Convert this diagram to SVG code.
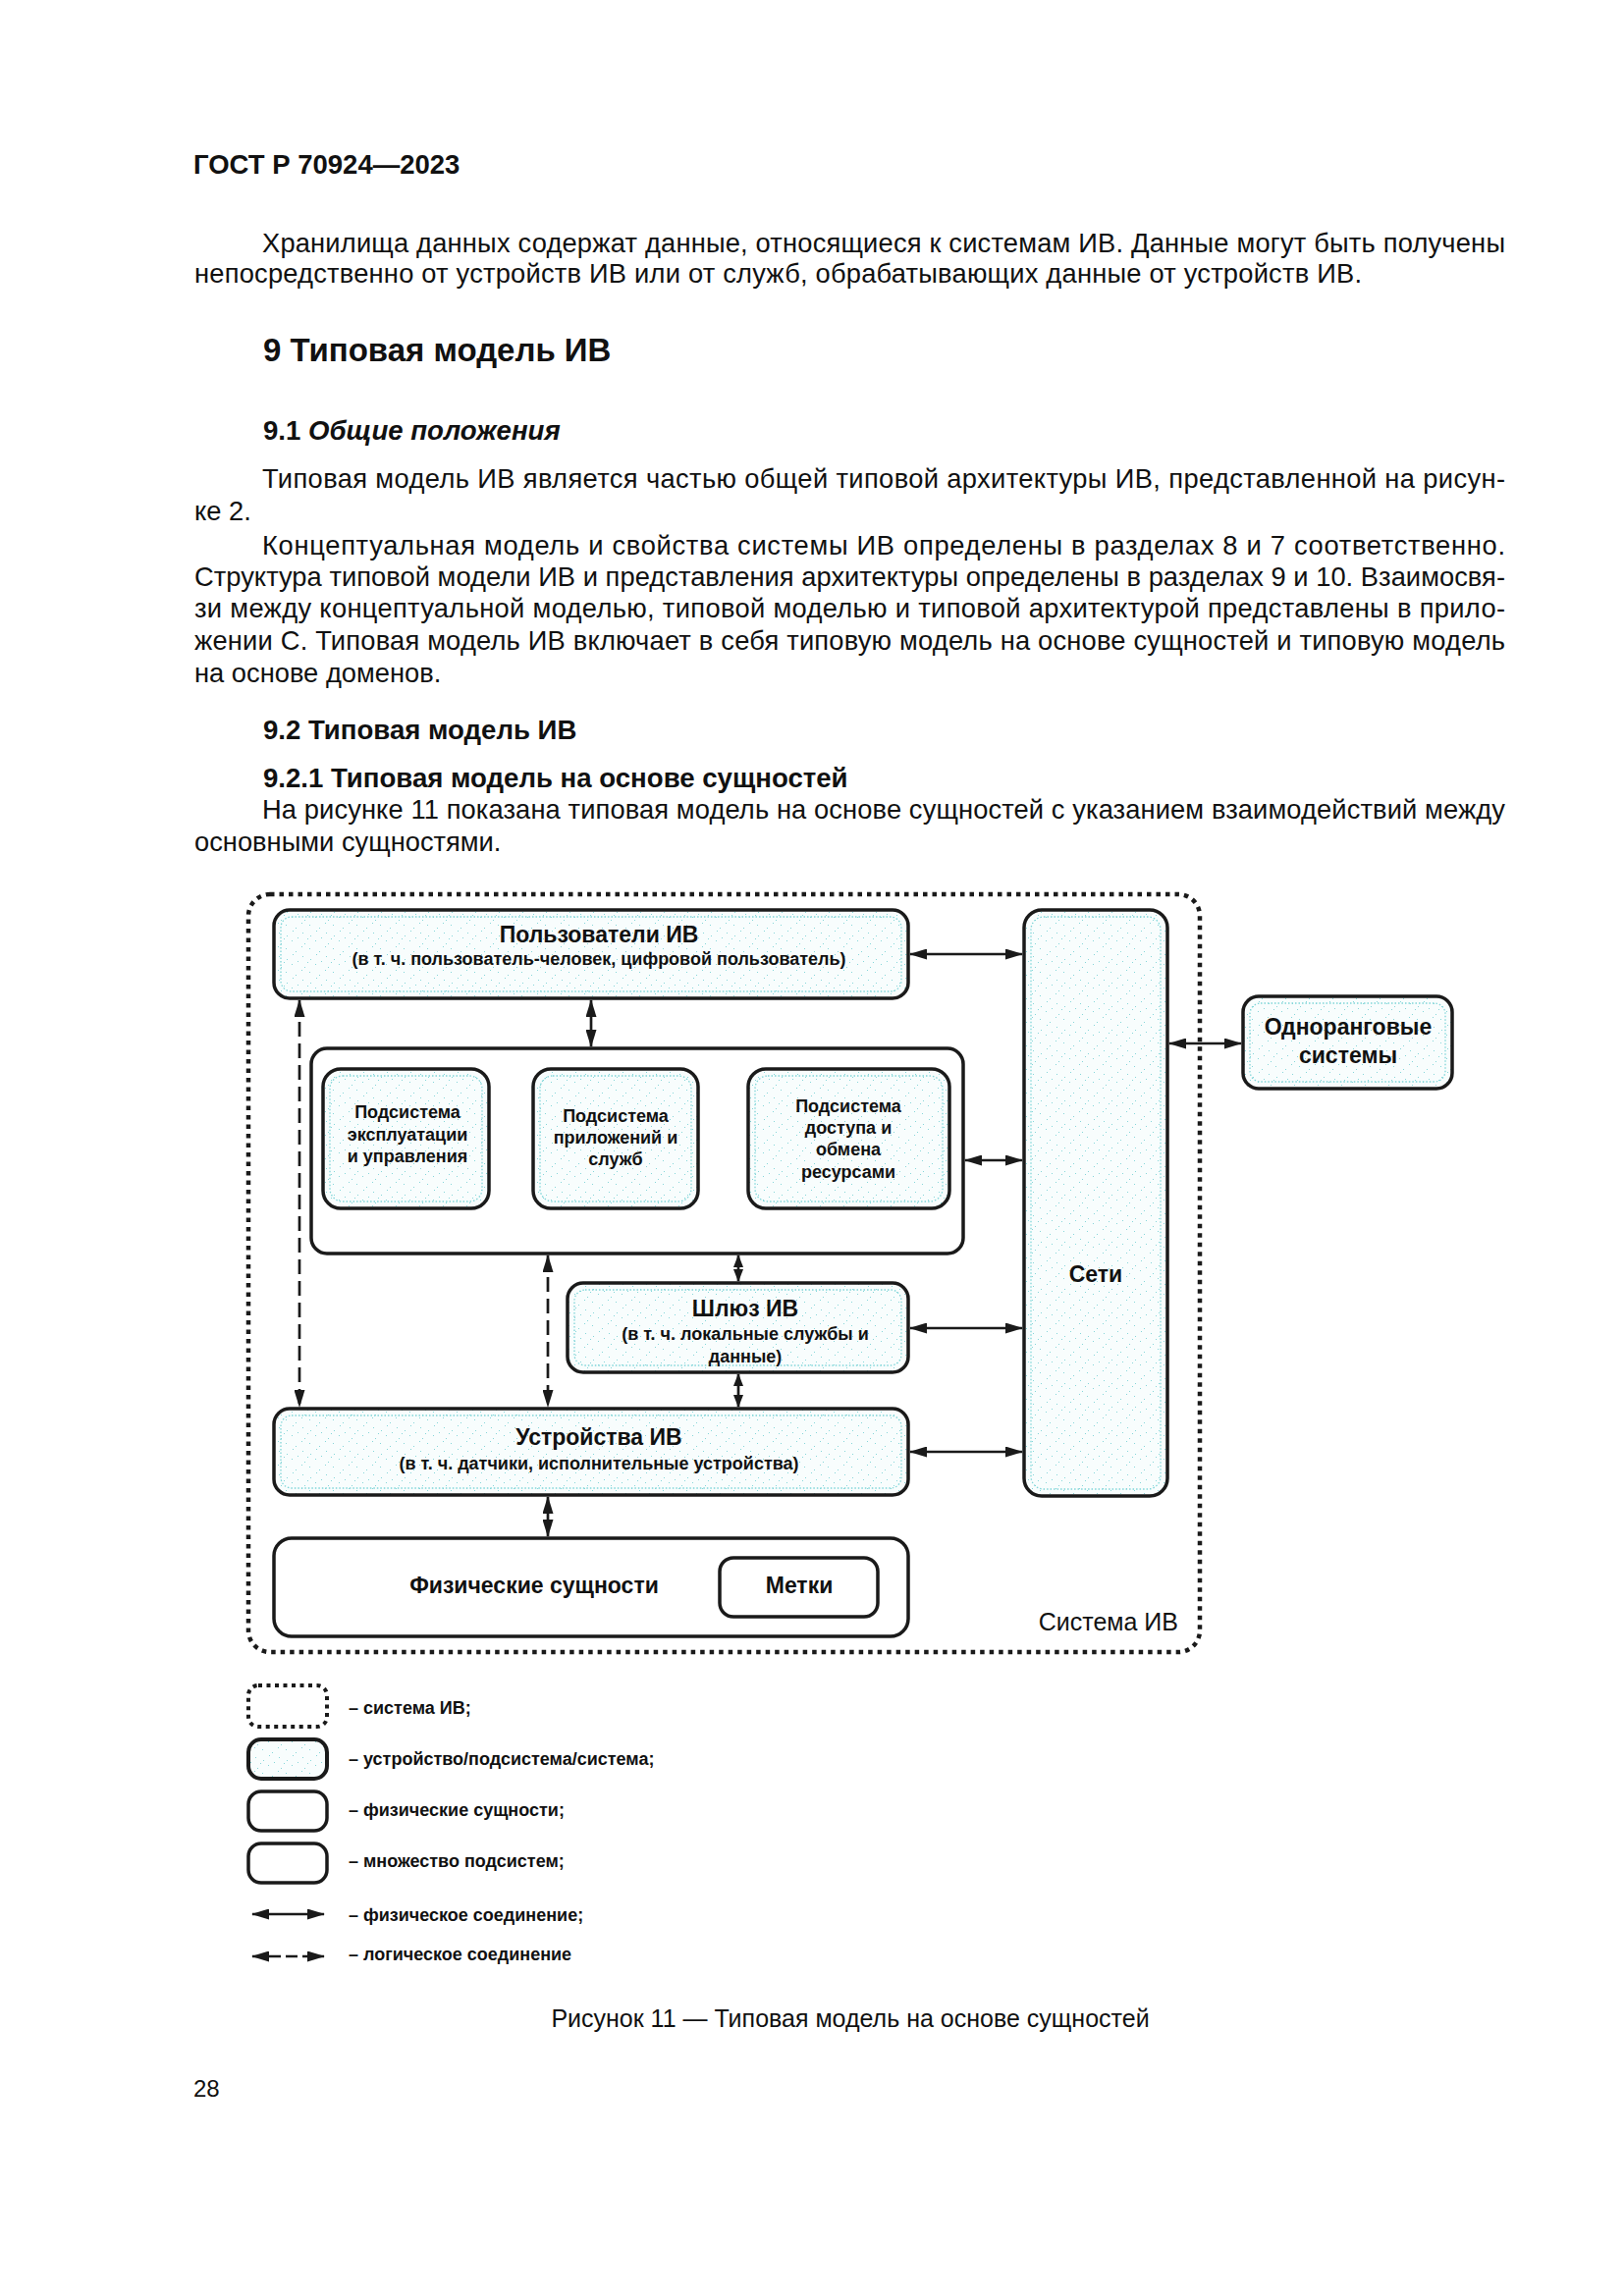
<svg xmlns="http://www.w3.org/2000/svg" width="1654" height="2339" viewBox="0 0 1654 2339">
<style>
text{font-family:"Liberation Sans",Arial,sans-serif;fill:#111}
.body{font-size:27.3px}
.h1{font-size:33px;font-weight:bold}
.h2{font-size:27.6px;font-weight:bold}
.box{fill:url(#speckle);stroke:#1a1a1a;stroke-width:3.5}
.plain{fill:#fff;stroke:#1a1a1a;stroke-width:3.5}
.inner{fill:none;stroke:#7fd5d8;stroke-width:1.3;stroke-dasharray:1.5 2}
.sys{fill:none;stroke:#1a1a1a;stroke-width:4.5;stroke-dasharray:4.5 5}
.lbl{font-weight:bold;text-anchor:middle}
.t23{font-size:23px}
.t18{font-size:18px}
.t17{font-size:18px}
.phys{fill:none;stroke:#1a1a1a;stroke-width:2.7;marker-start:url(#ah);marker-end:url(#ah)}
.physS{fill:none;stroke:#1a1a1a;stroke-width:2.7;marker-start:url(#ahs);marker-end:url(#ahs)}
.logi{fill:none;stroke:#1a1a1a;stroke-width:2.7;stroke-dasharray:15 7;marker-start:url(#ah);marker-end:url(#ah)}
.leg{font-size:18px;font-weight:bold}
</style>
<defs>
<pattern id="speckle" width="24" height="24" patternUnits="userSpaceOnUse">
<rect width="24" height="24" fill="#f8fdfd"/>
<g fill="#86d6d9">
<rect x="1" y="20" width="1" height="1"/><rect x="4" y="17" width="1" height="1"/><rect x="10" y="12" width="1" height="1"/><rect x="13" y="9" width="1" height="1"/><rect x="19" y="4" width="1" height="1"/><rect x="22" y="1" width="1" height="1"/>
<rect x="3" y="6" width="1" height="1"/><rect x="15" y="19" width="1" height="1"/><rect x="20" y="14" width="1" height="1"/><rect x="9" y="22" width="1" height="1"/>
</g>
</pattern>
<marker id="ah" markerUnits="userSpaceOnUse" markerWidth="18" markerHeight="11" refX="17" refY="5.5" orient="auto-start-reverse">
<path d="M0,0 L18,5.5 L0,11 Z" fill="#1a1a1a"/>
</marker>
<marker id="ahs" markerUnits="userSpaceOnUse" markerWidth="13" markerHeight="10" refX="12" refY="5" orient="auto-start-reverse">
<path d="M0,0 L13,5 L0,10 Z" fill="#1a1a1a"/>
</marker>
</defs>
<rect width="1654" height="2339" fill="#fff"/>

<g id="page-text">
<text x="197" y="177" style="font-size:27.5px;font-weight:bold">ГОСТ Р 70924—2023</text>
<text class="body" x="267" y="257" textLength="1266" lengthAdjust="spacing">Хранилища данных содержат данные, относящиеся к системам ИВ. Данные могут быть получены</text>
<text class="body" x="198" y="288" textLength="1189" lengthAdjust="spacing">непосредственно от устройств ИВ или от служб, обрабатывающих данные от устройств ИВ.</text>
<text class="h1" x="268" y="368">9 Типовая модель ИВ</text>
<text class="h2" x="268" y="448">9.1 <tspan font-style="italic">Общие положения</tspan></text>
<text class="body" x="267" y="497" textLength="1266" lengthAdjust="spacing">Типовая модель ИВ является частью общей типовой архитектуры ИВ, представленной на рисун-</text>
<text class="body" x="198" y="530">ке 2.</text>
<text class="body" x="267" y="565" textLength="1266" lengthAdjust="spacing">Концептуальная модель и свойства системы ИВ определены в разделах 8 и 7 соответственно.</text>
<text class="body" x="198" y="597" textLength="1335" lengthAdjust="spacing">Структура типовой модели ИВ и представления архитектуры определены в разделах 9 и 10. Взаимосвя-</text>
<text class="body" x="198" y="629" textLength="1335" lengthAdjust="spacing">зи между концептуальной моделью, типовой моделью и типовой архитектурой представлены в прило-</text>
<text class="body" x="198" y="662" textLength="1335" lengthAdjust="spacing">жении С. Типовая модель ИВ включает в себя типовую модель на основе сущностей и типовую модель</text>
<text class="body" x="198" y="695">на основе доменов.</text>
<text class="h2" x="268" y="753">9.2 Типовая модель ИВ</text>
<text class="h2" x="268" y="802">9.2.1 Типовая модель на основе сущностей</text>
<text class="body" x="267" y="834" textLength="1266" lengthAdjust="spacing">На рисунке 11 показана типовая модель на основе сущностей с указанием взаимодействий между</text>
<text class="body" x="198" y="867">основными сущностями.</text>
<text x="866" y="2065" style="font-size:25px;text-anchor:middle">Рисунок 11 — Типовая модель на основе сущностей</text>
<text x="197" y="2136" style="font-size:24px">28</text>
</g>

<g id="system-boundary">
<rect class="sys" x="253" y="911" width="969" height="772" rx="22"/>
<text x="1200" y="1661" style="font-size:25px;text-anchor:end">Система ИВ</text>
</g>

<g id="node-users">
<rect class="box" x="279" y="927" width="646" height="90" rx="16"/>
<rect class="inner" x="286" y="934" width="632" height="76" rx="11"/>
<text class="lbl t23" x="610" y="960">Пользователи ИВ</text>
<text class="lbl t17" x="610" y="983">(в т. ч. пользователь-человек, цифровой пользователь)</text>
</g>

<g id="node-subsystems">
<rect class="plain" x="317" y="1068" width="664" height="209" rx="16"/>
</g>

<g id="node-sub-ops">
<rect class="box" x="329" y="1089" width="169" height="142" rx="18"/>
<rect class="inner" x="336" y="1096" width="155" height="128" rx="13"/>
<text class="lbl t18" x="415" y="1139">Подсистема</text>
<text class="lbl t18" x="415" y="1162">эксплуатации</text>
<text class="lbl t18" x="415" y="1184">и управления</text>
</g>

<g id="node-sub-apps">
<rect class="box" x="543" y="1089" width="168" height="142" rx="18"/>
<rect class="inner" x="550" y="1096" width="154" height="128" rx="13"/>
<text class="lbl t18" x="627" y="1143">Подсистема</text>
<text class="lbl t18" x="627" y="1165">приложений и</text>
<text class="lbl t18" x="627" y="1187">служб</text>
</g>

<g id="node-sub-access">
<rect class="box" x="762" y="1089" width="205" height="142" rx="18"/>
<rect class="inner" x="769" y="1096" width="191" height="128" rx="13"/>
<text class="lbl t18" x="864" y="1133">Подсистема</text>
<text class="lbl t18" x="864" y="1155">доступа и</text>
<text class="lbl t18" x="864" y="1177">обмена</text>
<text class="lbl t18" x="864" y="1200">ресурсами</text>
</g>

<g id="node-gateway">
<rect class="box" x="578" y="1307" width="347" height="91" rx="16"/>
<rect class="inner" x="585" y="1314" width="333" height="77" rx="11"/>
<text class="lbl t23" x="759" y="1341">Шлюз ИВ</text>
<text class="lbl t17" x="759" y="1365">(в т. ч. локальные службы и</text>
<text class="lbl t17" x="759" y="1388">данные)</text>
</g>

<g id="node-devices">
<rect class="box" x="279" y="1435" width="646" height="88" rx="16"/>
<rect class="inner" x="286" y="1442" width="632" height="74" rx="11"/>
<text class="lbl t23" x="610" y="1472">Устройства ИВ</text>
<text class="lbl t17" x="610" y="1497">(в т. ч. датчики, исполнительные устройства)</text>
</g>

<g id="node-physical">
<rect class="plain" x="279" y="1567" width="646" height="100" rx="18"/>
<text class="lbl t23" x="544" y="1623">Физические сущности</text>
</g>

<g id="node-tags">
<rect class="plain" x="733" y="1587" width="161" height="60" rx="14"/>
<text class="lbl t23" x="814" y="1623">Метки</text>
</g>

<g id="node-networks">
<rect class="box" x="1043" y="927" width="146" height="597" rx="18"/>
<rect class="inner" x="1050" y="934" width="132" height="583" rx="13"/>
<text class="lbl t23" x="1116" y="1306">Сети</text>
</g>

<g id="node-peer">
<rect class="box" x="1266" y="1015" width="213" height="94" rx="16"/>
<rect class="inner" x="1273" y="1022" width="199" height="80" rx="11"/>
<text class="lbl t23" x="1373" y="1054">Одноранговые</text>
<text class="lbl t23" x="1373" y="1083">системы</text>
</g>

<g id="connectors">
<line class="phys" x1="927" y1="972" x2="1041" y2="972"/>
<line class="phys" x1="602" y1="1019" x2="602" y2="1066"/>
<line class="phys" x1="983" y1="1182" x2="1041" y2="1182"/>
<line class="physS" x1="752" y1="1279" x2="752" y2="1305"/>
<line class="phys" x1="927" y1="1353" x2="1041" y2="1353"/>
<line class="physS" x1="752" y1="1400" x2="752" y2="1433"/>
<line class="phys" x1="927" y1="1479" x2="1041" y2="1479"/>
<line class="phys" x1="558" y1="1525" x2="558" y2="1565"/>
<line class="phys" x1="1191" y1="1063" x2="1264" y2="1063"/>
<line class="logi" x1="305" y1="1019" x2="305" y2="1433"/>
<line class="logi" x1="558" y1="1279" x2="558" y2="1433"/>
</g>

<g id="legend">
<rect class="sys" x="253" y="1717" width="80" height="42" rx="10" style="stroke-width:4;stroke-dasharray:4 4.5"/>
<rect class="box" x="253" y="1772" width="80" height="40" rx="13" style="stroke-width:4"/>
<rect class="plain" x="253" y="1825" width="80" height="40" rx="13"/>
<rect class="plain" x="253" y="1878" width="80" height="40" rx="13"/>
<line class="phys" x1="257" y1="1950" x2="330" y2="1950"/>
<line class="logi" x1="257" y1="1993" x2="330" y2="1993" style="stroke-dasharray:12 5"/>
<text class="leg" x="355" y="1746">– система ИВ;</text>
<text class="leg" x="355" y="1798">– устройство/подсистема/система;</text>
<text class="leg" x="355" y="1850">– физические сущности;</text>
<text class="leg" x="355" y="1902">– множество подсистем;</text>
<text class="leg" x="355" y="1957">– физическое соединение;</text>
<text class="leg" x="355" y="1997">– логическое соединение</text>
</g>
</svg>
